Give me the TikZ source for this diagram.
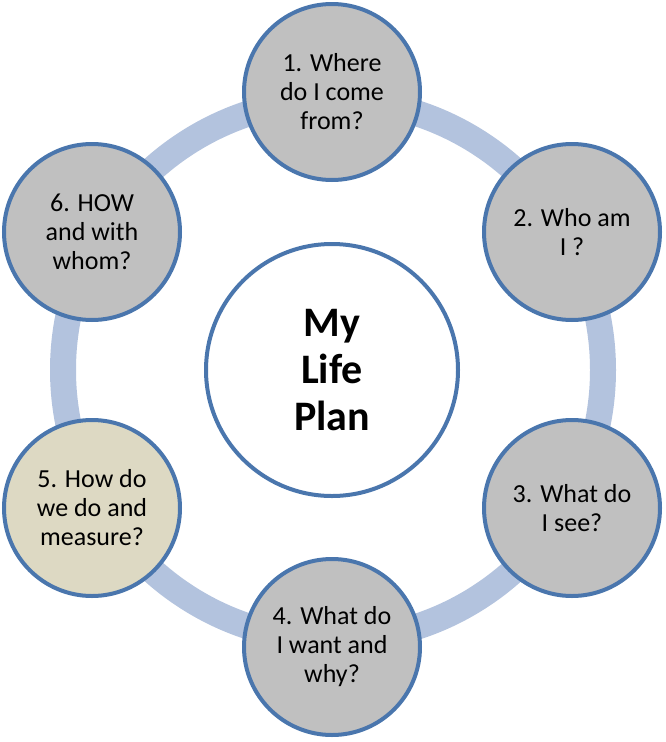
\documentclass[tikz,border=0pt]{standalone}
\usepackage{fontspec}
\setmainfont{Carlito}
\definecolor{ringblue}{HTML}{B3C3DE}
\definecolor{edgeblue}{HTML}{4A76AD}
\definecolor{nodegray}{HTML}{C0C0C0}
\definecolor{nodetan}{HTML}{DDD9C3}
\begin{document}
\begin{tikzpicture}[x=1pt,y=-1pt,
  qnode/.style={circle,draw=edgeblue,line width=4pt,fill=nodegray,minimum size=176pt,inner sep=0pt,align=center,font=\fontsize{26}{29}\selectfont,text=black},
  hub/.style={circle,draw=edgeblue,line width=4pt,fill=white,minimum size=252pt,inner sep=0pt,align=center,font=\fontsize{42}{47}\selectfont\bfseries,text=black}]
\useasboundingbox (0,0) rectangle (666,742);
\draw[ringblue,line width=26pt] (333,370) circle[radius=270];
\node[hub] (c) at (332,370) {My\\Life\\Plan};
\node[qnode] (n1) at (332,92) {1. Where\\do I come\\from?};
\node[qnode] (n2) at (572,232) {2. Who am\\I ?};
\node[qnode] (n3) at (572,508) {3. What do\\I see?};
\node[qnode] (n4) at (332,647) {4. What do\\I want and\\why?};
\node[qnode,fill=nodetan] (n5) at (92,508) {5. How do\\we do and\\measure?};
\node[qnode] (n6) at (92,232) {6. HOW\\and with\\whom?};
\end{tikzpicture}
\end{document}
